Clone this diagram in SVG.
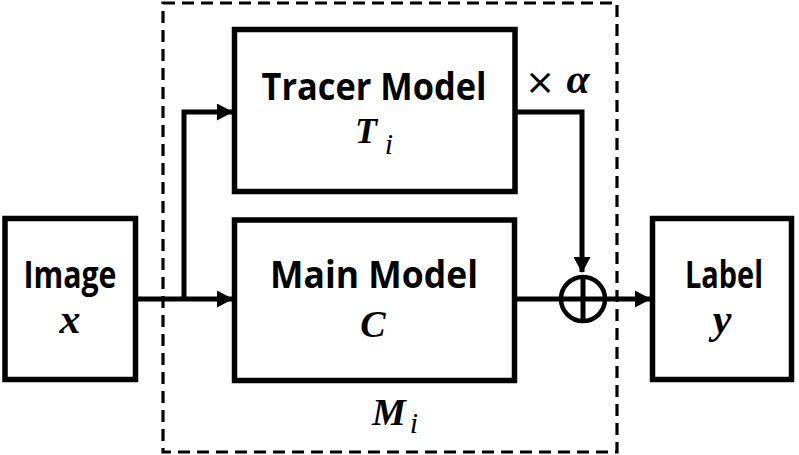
<svg xmlns="http://www.w3.org/2000/svg" width="799" height="455" viewBox="0 0 799 455">
<defs>
<style>
.box{fill:#fff;stroke:#000;stroke-width:5.5}
.ln{fill:none;stroke:#000;stroke-width:5}
.lbl{font-family:"Open Sans","Liberation Sans",sans-serif;font-weight:bold;font-size:38px;fill:#000;text-anchor:middle}
.m{font-family:"Liberation Serif","DejaVu Serif",serif;font-style:italic;font-weight:bold;fill:#000}
.sub{font-family:"Liberation Serif","DejaVu Serif",serif;font-style:italic;fill:#000}
</style>
<marker id="ah" viewBox="0 0 16 17" refX="15" refY="8.5" markerWidth="16" markerHeight="17" markerUnits="userSpaceOnUse" orient="auto">
<path d="M0,0 L16,8.5 L0,17 Z" fill="#000"/>
</marker>
</defs>
<rect id="frame" x="163" y="3" width="454" height="449" fill="none" stroke="#000" stroke-width="3.2" stroke-dasharray="12,7"/>
<g id="connectors">
<path class="ln" d="M136,299 H232" marker-end="url(#ah)"/>
<path class="ln" d="M184,299 V112 H232" marker-end="url(#ah)"/>
<path class="ln" d="M515,112 H582 V272" marker-end="url(#ah)"/>
<path class="ln" d="M515,299 H561"/>
<path class="ln" d="M605,299 H650" marker-end="url(#ah)"/>
</g>
<g id="plus">
<circle cx="583" cy="299" r="22" fill="none" stroke="#000" stroke-width="4.5"/>
<path class="ln" d="M561,299 H605 M583,277 V321" stroke-width="4"/>
</g>
<g id="image">
<rect class="box" x="5" y="218.5" width="130.5" height="161"/>
<text class="lbl" x="70" y="288" textLength="93" lengthAdjust="spacingAndGlyphs">Image</text>
<text class="m" x="70" y="333" font-size="42" text-anchor="middle">x</text>
</g>
<g id="tracer">
<rect class="box" x="234.5" y="29.5" width="280.5" height="162"/>
<text class="lbl" x="374" y="100" textLength="225" lengthAdjust="spacingAndGlyphs">Tracer Model</text>
<text class="m" x="366" y="143" font-size="36" text-anchor="middle">T</text>
<text class="sub" x="389" y="154" font-size="30" text-anchor="middle">i</text>
</g>
<g id="main">
<rect class="box" x="234.5" y="220" width="280" height="160.5"/>
<text class="lbl" x="374" y="288" textLength="208" lengthAdjust="spacingAndGlyphs">Main Model</text>
<text class="m" x="373" y="337" font-size="38" text-anchor="middle">C</text>
</g>
<g id="label">
<rect class="box" x="652.5" y="218.5" width="139" height="161"/>
<text class="lbl" x="724" y="288" textLength="78" lengthAdjust="spacingAndGlyphs">Label</text>
<text class="m" x="722" y="333" font-size="42" text-anchor="middle">y</text>
</g>
<g id="alpha">
<text x="540" y="94" font-family="DejaVu Sans,sans-serif" font-size="36" text-anchor="middle">×</text>
<text class="m" x="578" y="93" font-size="42" text-anchor="middle">α</text>
</g>
<g id="mi">
<text class="m" x="389" y="425" font-size="38" text-anchor="middle">M</text>
<text class="sub" x="414" y="433" font-size="30" text-anchor="middle">i</text>
</g>
</svg>
